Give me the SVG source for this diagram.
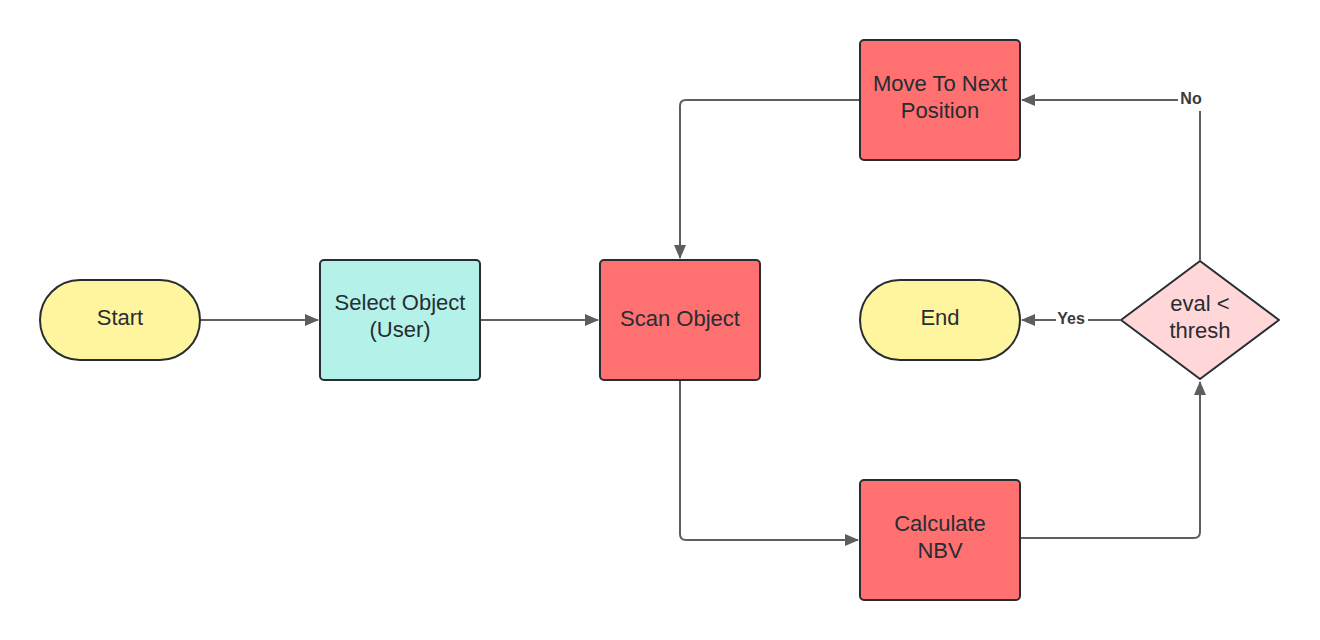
<svg xmlns="http://www.w3.org/2000/svg" width="1320" height="640" viewBox="0 0 1320 640">
<defs>
<marker id="arr" markerWidth="14" markerHeight="12" refX="13" refY="6" orient="auto" markerUnits="userSpaceOnUse">
<path d="M0,0 L14,6 L0,12 Z" fill="#5e5e5e"/>
</marker>
<style>
.node{stroke:#282c33;stroke-width:2}
.t{font-family:"Liberation Sans",Arial,sans-serif;font-size:22px;fill:#282c33;text-anchor:middle}
.c{fill:none;stroke:#5e5e5e;stroke-width:2}
.lbl{font-family:"Liberation Sans",Arial,sans-serif;font-size:16px;font-weight:bold;fill:#3a3a3a;text-anchor:middle}
</style>
</defs>
<rect width="1320" height="640" fill="#ffffff"/>
<g id="connectors">
<path class="c" d="M200,320 H318" marker-end="url(#arr)"/>
<path class="c" d="M480,320 H598" marker-end="url(#arr)"/>
<path class="c" d="M680,380 V534 Q680,540 686,540 H858" marker-end="url(#arr)"/>
<path class="c" d="M1020,538 H1194 Q1200,538 1200,532 V382" marker-end="url(#arr)"/>
<path class="c" d="M1200,260 V111"/>
<path class="c" d="M1178,100 H1022" marker-end="url(#arr)"/>
<text class="lbl" x="1191" y="104">No</text>
<path class="c" d="M1120,320 H1088"/>
<path class="c" d="M1056,320 H1022" marker-end="url(#arr)"/>
<text class="lbl" x="1071" y="324">Yes</text>
<path class="c" d="M860,100 H686 Q680,100 680,106 V258" marker-end="url(#arr)"/>
</g>
<g id="start">
<rect class="node" x="40" y="280" width="160" height="80" rx="40" fill="#fff59f"/>
<text class="t" x="120" y="325">Start</text>
</g>
<g id="select">
<rect class="node" x="320" y="260" width="160" height="120" rx="4" fill="#b4f2e9"/>
<text class="t" x="400" y="310">Select Object</text>
<text class="t" x="400" y="337">(User)</text>
</g>
<g id="scan">
<rect class="node" x="600" y="260" width="160" height="120" rx="4" fill="#ff7070"/>
<text class="t" x="680" y="326">Scan Object</text>
</g>
<g id="move">
<rect class="node" x="860" y="40" width="160" height="120" rx="4" fill="#ff7070"/>
<text class="t" x="940" y="91">Move To Next</text>
<text class="t" x="940" y="118">Position</text>
</g>
<g id="calc">
<rect class="node" x="860" y="480" width="160" height="120" rx="4" fill="#ff7070"/>
<text class="t" x="940" y="531">Calculate</text>
<text class="t" x="940" y="558">NBV</text>
</g>
<g id="end">
<rect class="node" x="860" y="280" width="160" height="80" rx="40" fill="#fff59f"/>
<text class="t" x="940" y="325">End</text>
</g>
<g id="decision">
<path class="node" d="M1200,261 L1279,320 L1200,379 L1121,320 Z" stroke-linejoin="round" fill="#ffd7d9"/>
<text class="t" x="1200" y="311">eval &lt;</text>
<text class="t" x="1200" y="338">thresh</text>
</g>
</svg>
